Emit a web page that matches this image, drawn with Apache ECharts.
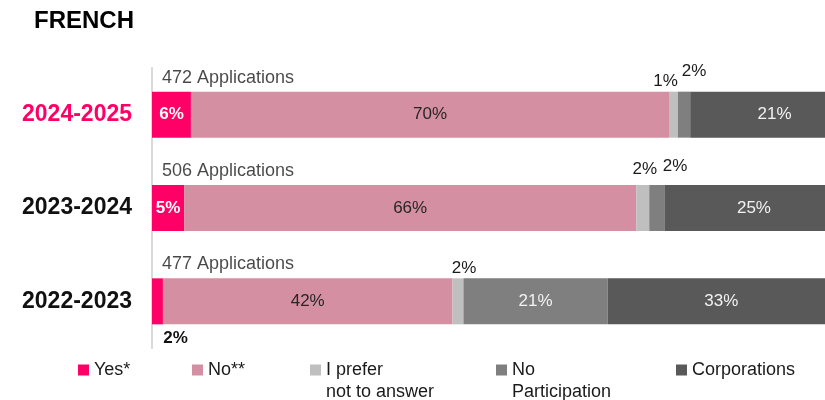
<!DOCTYPE html>
<html>
<head>
<meta charset="utf-8">
<script src="https://cdn.jsdelivr.net/npm/echarts@6/dist/echarts.min.js"></script>
<style>
  html, body { margin: 0; padding: 0; background: #fff; }
  #chart { width: 825px; height: 400px; }
</style>
</head>
<body>
<div id="chart"></div>
<script>
const categories = ['2024-2025', '2023-2024', '2022-2023'];
const applications = [472, 506, 477];
const yesValues = [5.7, 4.7, 1.6];
const noValues = [70.0, 66.2, 42.4];
const preferValues = [1.3, 1.9, 1.6];
const noParticipationValues = [1.8, 2.3, 21.1];
const corporationValues = [21.2, 24.9, 33.3];
const seriesNames = ['Yes*', 'No**', 'I prefer not to answer', 'No Participation', 'Corporations'];
const legendFirstLines = ['Yes*', 'No**', 'I prefer', 'No', 'Corporations'];
const legendSecondLines = ['', '', 'not to answer', 'Participation', ''];

const FONT = '"Liberation Sans", Arial, sans-serif';
const colors = ['#FF0066', '#D58FA2', '#BFBFBF', '#7F7F7F', '#595959'];
const pct = p => Math.round(p.value) + '%';

const chart = echarts.init(document.getElementById('chart'), null, { renderer: 'canvas' });

function insideLabel(color, bold) {
  return { show: true, position: 'inside', formatter: pct, color: color,
           fontFamily: FONT, fontSize: 17, fontWeight: bold ? 'bold' : 'normal' };
}
function topLabel(dx, dy) {
  return { show: true, position: 'top', distance: 2, offset: [dx, dy], formatter: pct,
           color: '#1a1a1a', fontFamily: FONT, fontSize: 17 };
}

const yesData = yesValues.map((v, i) => ({
  value: v,
  label: i < 2 ? insideLabel('#ffffff', true)
    : { show: true, position: 'bottom', distance: 5, offset: [18, 0], formatter: pct,
        color: '#111', fontFamily: FONT, fontSize: 17, fontWeight: 'bold' }
}));
const noData = noValues.map(v => ({ value: v, label: insideLabel('#262626', false) }));
const preferOffsets = [[-8, 0], [2, -5], [6, 0]];
const preferData = preferValues.map((v, i) => ({ value: v, label: topLabel(preferOffsets[i][0], preferOffsets[i][1]) }));
const noPartOffsets = [[10, -10], [18, -8]];
const noPartData = noParticipationValues.map((v, i) => ({
  value: v,
  label: i < 2 ? topLabel(noPartOffsets[i][0], noPartOffsets[i][1]) : insideLabel('#f2f2f2', false)
}));
const corpOffsets = [[12, 0], [4, 0], [0, 0]];
const corpData = corporationValues.map((v, i) => ({
  value: v,
  label: Object.assign(insideLabel('#f2f2f2', false), { offset: corpOffsets[i] })
}));

const allData = [yesData, noData, preferData, noPartData, corpData];

const barSeries = seriesNames.map((name, k) => ({
  name: name,
  type: 'bar',
  stack: 'total',
  barWidth: 46,
  data: allData[k],
  itemStyle: { color: colors[k] },
  emphasis: { disabled: true },
  silent: true
}));

const appSeries = {
  name: 'apps',
  type: 'scatter',
  symbolSize: 0,
  silent: true,
  clip: false,
  z: 10,
  data: applications.map((a, i) => [0, i]),
  label: {
    show: true, position: 'right', distance: 10, offset: [0, -37],
    formatter: p => applications[p.dataIndex] + ' Applications',
    color: '#1a1a1a', fontFamily: FONT, fontSize: 18
  }
};

const legendLefts = [78, 192, 310, 496, 676];
const legends = seriesNames.map((name, k) => ({
  data: [name],
  left: legendLefts[k],
  top: 359,
  padding: 0,
  itemWidth: 11,
  itemHeight: 11,
  icon: 'rect',
  selectedMode: false,
  formatter: () => legendFirstLines[k],
  textStyle: { fontFamily: FONT, fontSize: 18, color: '#1a1a1a', lineHeight: 22 }
}));

const secondLineGraphics = legendSecondLines.map((t, k) => ({
  type: 'text',
  left: legendLefts[k] + 16,
  top: 383,
  silent: true,
  style: { text: t, font: '18px ' + FONT, fill: '#1a1a1a' }
})).filter(g => g.style.text);

chart.setOption({
  animation: false,
  backgroundColor: '#ffffff',
  title: {
    text: 'FRENCH', left: 34, top: 9, padding: 0,
    textStyle: { fontFamily: FONT, fontSize: 24, fontWeight: 'bold', color: '#000' }
  },
  legend: legends,
  graphic: secondLineGraphics,
  grid: { left: 152, width: 683, top: 68, bottom: 52, outerBoundsMode: 'none', containLabel: false },
  xAxis: { type: 'value', min: 0, max: 100, show: false },
  yAxis: {
    type: 'category',
    data: categories,
    inverse: true,
    axisTick: { show: false },
    splitLine: { show: false },
    axisLine: { show: true, lineStyle: { color: '#d9d9d9', width: 2 } },
    axisLabel: {
      margin: 20,
      padding: [4, 0, 0, 0],
      fontFamily: FONT, fontSize: 23, fontWeight: 'bold',
      color: (v, i) => (i === 0 ? '#FF0066' : '#111111')
    }
  },
  series: barSeries.concat([appSeries])
});
</script>
</body>
</html>
